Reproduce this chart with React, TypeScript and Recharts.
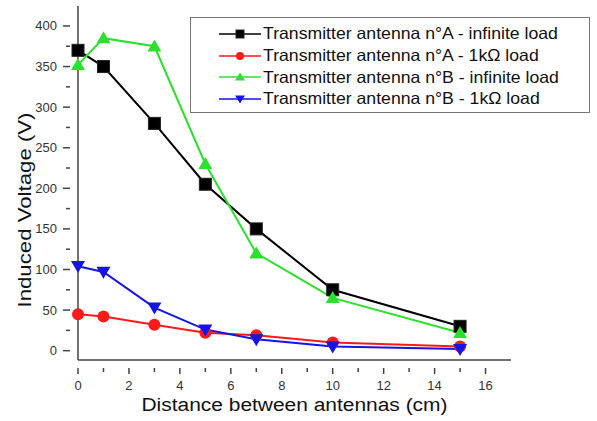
import React from "react";
import {
  LineChart,
  Line,
  XAxis,
  YAxis,
  Legend,
  Label,
} from "recharts";

const distances = [0, 1, 3, 5, 7, 10, 15];
const antennaAInfinite = [370, 350, 280, 205, 150, 75, 30];
const antennaA1k = [45, 42, 32, 22, 19, 10, 5];
const antennaBInfinite = [352, 385, 375, 230, 120, 65, 22];
const antennaB1k = [104, 97, 53, 26, 14, 5, 2];

const xTicks = [0, 1, 2, 3, 4, 5, 6, 7, 8, 9, 10, 11, 12, 13, 14, 15, 16];
const yTicks = [0, 25, 50, 75, 100, 125, 150, 175, 200, 225, 250, 275, 300, 325, 350, 375, 400];

const seriesList = [
  { key: "aInf", name: "Transmitter antenna n°A - infinite load", color: "#000000", shape: "square" },
  { key: "a1k", name: "Transmitter antenna n°A - 1kΩ load", color: "#ff1a1a", shape: "circle" },
  { key: "bInf", name: "Transmitter antenna n°B - infinite load", color: "#2ee02e", shape: "triangle" },
  { key: "b1k", name: "Transmitter antenna n°B - 1kΩ load", color: "#1414e6", shape: "triangleDown" },
];

const data = distances.map((d, i) => ({
  d,
  aInf: antennaAInfinite[i],
  a1k: antennaA1k[i],
  bInf: antennaBInfinite[i],
  b1k: antennaB1k[i],
}));

const AXIS = "#444";
const FONT = "Liberation Sans, Arial, sans-serif";

function Marker({ shape, cx, cy, color, size }: any) {
  const s = size;
  if (shape === "square") {
    return <rect x={cx - s / 2} y={cy - s / 2} width={s} height={s} fill={color} stroke="#222" strokeWidth={1} />;
  }
  if (shape === "circle") {
    return <circle cx={cx} cy={cy} r={s / 2} fill={color} />;
  }
  if (shape === "triangle") {
    const h = s * 0.95;
    return (
      <polygon
        points={`${cx},${cy - h * 0.6} ${cx - s / 2 - 1},${cy + h * 0.45} ${cx + s / 2 + 1},${cy + h * 0.45}`}
        fill={color}
      />
    );
  }
  const h = s * 0.95;
  return (
    <polygon
      points={`${cx},${cy + h * 0.6} ${cx - s / 2 - 1},${cy - h * 0.45} ${cx + s / 2 + 1},${cy - h * 0.45}`}
      fill={color}
    />
  );
}

const makeDot = (shape: string, color: string) => (props: any) => {
  const { cx, cy, index } = props;
  return <Marker key={`${shape}-${index}`} shape={shape} cx={cx} cy={cy} color={color} size={12} />;
};

// ticks drawn by hand so minor ticks can be shorter than major ones
const BottomTick = (props: any) => {
  const { x, y, payload } = props;
  const major = payload.value % 2 === 0;
  return (
    <g>
      <line x1={x} y1={y} x2={x} y2={y + (major ? 6 : 4)} stroke={AXIS} strokeWidth={1.5} />
      {major && (
        <text x={x} y={y + 22} textAnchor="middle" fontSize={13} fill="#333" fontFamily={FONT}>
          {payload.value}
        </text>
      )}
    </g>
  );
};

const TopTick = (props: any) => {
  const { x, y, payload } = props;
  const major = payload.value % 2 === 0;
  return <line x1={x} y1={y} x2={x} y2={y + (major ? 6 : 4)} stroke={AXIS} strokeWidth={1.5} />;
};

const LeftTick = (props: any) => {
  const { x, y, payload } = props;
  const major = payload.value % 50 === 0;
  return (
    <g>
      <line x1={x} y1={y} x2={x - (major ? 7 : 4)} y2={y} stroke={AXIS} strokeWidth={1.5} />
      {major && (
        <text x={x - 13} y={y + 4.5} textAnchor="end" fontSize={13} fill="#333" fontFamily={FONT}>
          {payload.value}
        </text>
      )}
    </g>
  );
};

const RightTick = (props: any) => {
  const { x, y, payload } = props;
  const major = payload.value % 50 === 0;
  return <line x1={x} y1={y} x2={x - (major ? 7 : 4)} y2={y} stroke={AXIS} strokeWidth={1.5} />;
};

const LegendBox = () => (
  <div
    style={{
      border: "1px solid #777",
      background: "#fff",
      width: 400,
      height: 96,
      boxSizing: "border-box",
      paddingTop: 5,
      paddingLeft: 26,
      fontFamily: FONT,
      fontSize: 16.5,
      color: "#111",
    }}
  >
    {seriesList.map((s) => (
      <div key={s.key} style={{ display: "flex", alignItems: "center", height: 21.7, whiteSpace: "nowrap" }}>
        <svg width={46} height={16} style={{ flex: "none" }}>
          <line x1={2} y1={8} x2={44} y2={8} stroke={s.color} strokeWidth={1.5} />
          <Marker shape={s.shape} cx={23} cy={8} color={s.color} size={8} />
        </svg>
        <span style={{ display: "inline-block", transform: "scaleX(1.07)", transformOrigin: "left center" }}>
          {s.name}
        </span>
      </div>
    ))}
  </div>
);

export default function App() {
  return (
    <div style={{ position: "absolute", left: 0, top: 0, width: 597, height: 421, background: "#fff" }}>
      <LineChart
        width={597}
        height={421}
        data={data}
        margin={{ top: 6, right: 86, bottom: 0, left: 0 }}
      >
        <XAxis
          dataKey="d"
          type="number"
          domain={[0, 17]}
          ticks={xTicks}
          interval={0}
          height={61}
          stroke={AXIS}
          strokeWidth={1.5}
          tickLine={false}
          tick={<BottomTick />}
        >
          <Label
            content={() => (
              <text
                x={294.5}
                y={411}
                textAnchor="middle"
                fontSize={18}
                fill="#111"
                fontFamily={FONT}
                textLength={306}
                lengthAdjust="spacingAndGlyphs"
              >
                Distance between antennas (cm)
              </text>
            )}
          />
        </XAxis>
        <XAxis
          xAxisId="top"
          dataKey="d"
          type="number"
          orientation="top"
          domain={[0, 17]}
          ticks={xTicks}
          interval={0}
          height={0}
          stroke={AXIS}
          strokeWidth={1.5}
          tickLine={false}
          tick={<TopTick />}
        />
        <YAxis
          type="number"
          domain={[-11.5, 424.6]}
          ticks={yTicks}
          interval={0}
          width={78}
          stroke={AXIS}
          strokeWidth={1.5}
          tickLine={false}
          tick={<LeftTick />}
        >
          <Label
            content={() => (
              <text
                x={31}
                y={210}
                transform="rotate(-90 31 210)"
                textAnchor="middle"
                fontSize={18}
                fill="#111"
                fontFamily={FONT}
                textLength={195}
                lengthAdjust="spacingAndGlyphs"
              >
                Induced Voltage (V)
              </text>
            )}
          />
        </YAxis>
        <YAxis
          yAxisId="right"
          type="number"
          orientation="right"
          domain={[-11.5, 424.6]}
          ticks={yTicks}
          interval={0}
          width={0}
          stroke={AXIS}
          strokeWidth={1.5}
          tickLine={false}
          tick={<RightTick />}
        />
        {seriesList.map((s) => (
          <Line
            key={s.key}
            dataKey={s.key}
            name={s.name}
            stroke={s.color}
            strokeWidth={2}
            dot={makeDot(s.shape, s.color)}
            activeDot={false}
            isAnimationActive={false}
          />
        ))}
        <Legend
          layout="horizontal"
          verticalAlign="middle"
          align="center"
          content={<LegendBox />}
          wrapperStyle={{ position: "absolute", left: 190, top: 17, width: 400, height: 96 }}
        />
      </LineChart>
    </div>
  );
}
